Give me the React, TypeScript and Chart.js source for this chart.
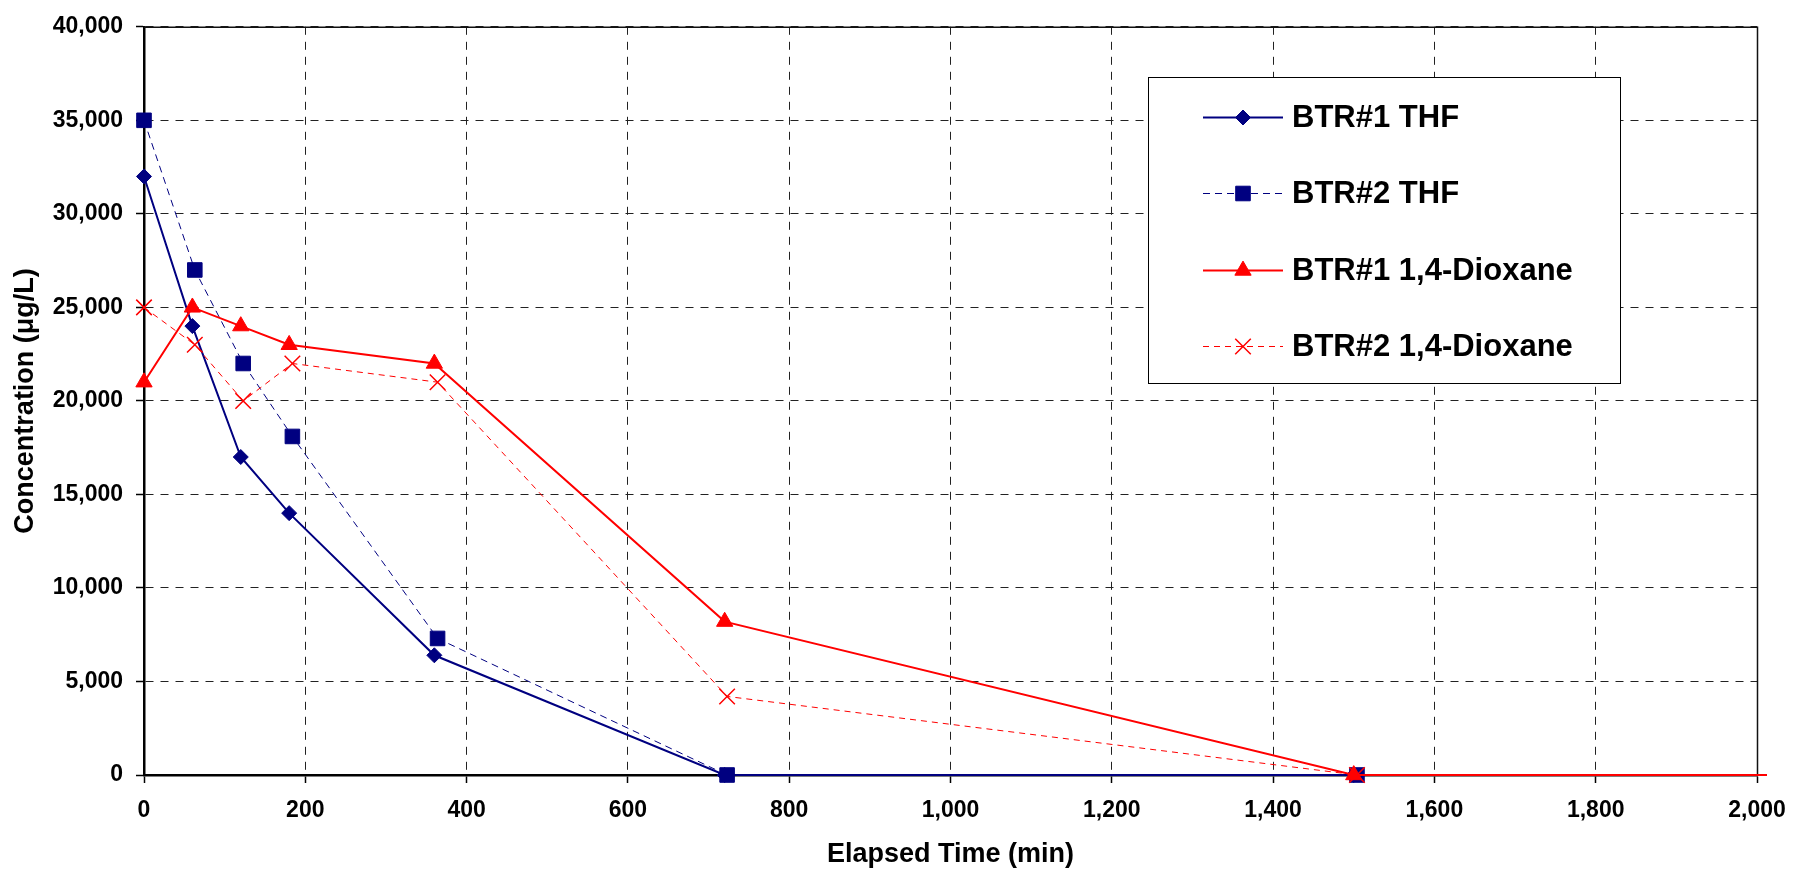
import React, { useEffect, useRef } from "react";
import { Chart, registerables } from "chart.js";
import { drawPoint } from "chart.js/helpers";

Chart.register(...registerables);

// ---------------- data ----------------
const SERIES_NAMES = ["BTR#1 THF", "BTR#2 THF", "BTR#1 1,4-Dioxane", "BTR#2 1,4-Dioxane"];

const BTR1_THF_TIME = [0, 60, 120, 180, 360, 720, 1500];
const BTR1_THF_CONC = [32000, 24000, 17000, 14000, 6400, 0, 0];

const BTR2_THF_TIME = [0, 63, 123, 184, 364, 723, 1504];
const BTR2_THF_CONC = [35000, 27000, 22000, 18100, 7300, 0, 0];

const BTR1_DIOX_TIME = [0, 60, 120, 180, 360, 720, 1500, 2880];
const BTR1_DIOX_CONC = [21000, 25000, 24000, 23000, 22000, 8200, 0, 0];

const BTR2_DIOX_TIME = [0, 63, 123, 184, 364, 723, 1504, 2880];
const BTR2_DIOX_CONC = [25000, 23000, 20000, 22000, 21000, 4200, 0, 0];

const X_TICKS = [0, 200, 400, 600, 800, 1000, 1200, 1400, 1600, 1800, 2000];
const Y_TICKS = [0, 5000, 10000, 15000, 20000, 25000, 30000, 35000, 40000];

const X_TITLE = "Elapsed Time (min)";
const Y_TITLE = "Concentration (\u03bcg/L)";

// ---------------- styles ----------------
const NAVY = "#000080";
const RED = "#FF0000";
const FONT = "'Liberation Sans', Arial, sans-serif";

const pts = (xs: number[], ys: number[]) => xs.map((x, i) => ({ x, y: ys[i] }));

const legendPlugin = {
  id: "boxLegend",
  afterDatasetsDraw(chart: any) {
    const ctx = chart.ctx as CanvasRenderingContext2D;
    const box = { left: 1148, top: 77, right: 1620, bottom: 383 };
    ctx.save();
    ctx.fillStyle = "#fff";
    ctx.fillRect(box.left, box.top, box.right - box.left, box.bottom - box.top);
    ctx.strokeStyle = "#000";
    ctx.lineWidth = 1;
    ctx.setLineDash([]);
    ctx.strokeRect(box.left + 0.5, box.top + 0.5, box.right - box.left, box.bottom - box.top);
    const rowY0 = box.top + 40;
    const rowStep = 76.3;
    chart.data.datasets.forEach((ds: any, i: number) => {
      const y = Math.round(rowY0 + i * rowStep) + 0.5;
      ctx.strokeStyle = ds.borderColor;
      ctx.lineWidth = ds.borderWidth;
      ctx.setLineDash(ds.borderDash || []);
      ctx.beginPath();
      ctx.moveTo(box.left + 55, y);
      ctx.lineTo(box.left + 135, y);
      ctx.stroke();
      ctx.setLineDash([]);
      ctx.fillStyle = ds.pointBackgroundColor;
      ctx.strokeStyle = ds.pointBorderColor;
      ctx.lineWidth = ds.pointBorderWidth;
      const r = Array.isArray(ds.pointRadius) ? ds.pointRadius[0] : ds.pointRadius;
      drawPoint(ctx, { pointStyle: ds.pointStyle, radius: r, borderWidth: ds.pointBorderWidth, rotation: 0 } as any, box.left + 95, y);
      ctx.fillStyle = "#000";
      ctx.font = `bold 31px ${FONT}`;
      ctx.textBaseline = "middle";
      ctx.textAlign = "left";
      ctx.fillText(ds.label, box.left + 144, y + 1);
    });
    ctx.restore();
  },
};

const framePlugin = {
  id: "plotFrame",
  beforeDatasetsDraw(chart: any) {
    const { ctx, chartArea: a } = chart;
    ctx.save();
    ctx.strokeStyle = "#111";
    ctx.lineWidth = 1.5;
    ctx.setLineDash([]);
    ctx.beginPath();
    ctx.moveTo(a.left, a.top + 0.5);
    ctx.lineTo(a.right + 0.5, a.top + 0.5);
    ctx.lineTo(a.right + 0.5, a.bottom);
    ctx.stroke();
    ctx.restore();
  },
};

export default function App() {
  const ref = useRef<HTMLCanvasElement>(null);

  useEffect(() => {
    document.body.style.margin = "0";
    const tickFont = { family: FONT, size: 23, weight: "bold" as const };
    const titleFont = { family: FONT, size: 27, weight: "bold" as const };
    const gridCommon = {
      color: "#222",
      lineWidth: 1,
      tickLength: 8,
      tickColor: "#000",
      tickWidth: 1.5,
      drawTicks: true,
    };
    const chart = new Chart(ref.current as HTMLCanvasElement, {
      type: "line",
      data: {
        datasets: [
          {
            label: SERIES_NAMES[0],
            data: pts(BTR1_THF_TIME, BTR1_THF_CONC),
            borderColor: NAVY,
            backgroundColor: NAVY,
            borderWidth: 2,
            pointStyle: "rectRot",
            pointRadius: 7.5,
            pointBorderWidth: 1,
            pointBackgroundColor: NAVY,
            pointBorderColor: NAVY,
            order: 4,
            clip: 20,
          },
          {
            label: SERIES_NAMES[1],
            data: pts(BTR2_THF_TIME, BTR2_THF_CONC),
            borderColor: NAVY,
            backgroundColor: NAVY,
            borderWidth: 1,
            borderDash: [7, 5],
            pointStyle: "rect",
            pointRadius: 10.3,
            pointBorderWidth: 1,
            pointBackgroundColor: NAVY,
            pointBorderColor: NAVY,
            order: 3,
            clip: 20,
          },
          {
            label: SERIES_NAMES[2],
            data: pts(BTR1_DIOX_TIME, BTR1_DIOX_CONC),
            borderColor: RED,
            backgroundColor: RED,
            borderWidth: 2,
            pointStyle: "triangle",
            pointRadius: BTR1_DIOX_TIME.map((t) => (t > X_TICKS[X_TICKS.length - 1] ? 0 : 9.4)),
            pointBorderWidth: 1,
            pointBackgroundColor: RED,
            pointBorderColor: RED,
            order: 2,
            clip: { left: 20, top: 20, right: 10, bottom: 20 },
          },
          {
            label: SERIES_NAMES[3],
            data: pts(BTR2_DIOX_TIME, BTR2_DIOX_CONC),
            borderColor: RED,
            backgroundColor: RED,
            borderWidth: 1,
            borderDash: [6, 5],
            pointStyle: "crossRot",
            pointRadius: BTR2_DIOX_TIME.map((t) => (t > X_TICKS[X_TICKS.length - 1] ? 0 : 11)),
            pointBorderWidth: 1.5,
            pointBackgroundColor: RED,
            pointBorderColor: RED,
            order: 1,
            clip: { left: 20, top: 20, right: 10, bottom: 20 },
          },
        ],
      },
      options: {
        responsive: false,
        animation: false,
        devicePixelRatio: 1,
        layout: { padding: { left: 0, top: 21, right: 43, bottom: 0 } },
        plugins: { legend: { display: false }, tooltip: { enabled: false } },
        elements: { line: { tension: 0 } },
        scales: {
          x: {
            type: "linear",
            min: X_TICKS[0],
            max: X_TICKS[X_TICKS.length - 1],
            afterBuildTicks: (s: any) => {
              s.ticks = X_TICKS.map((v) => ({ value: v }));
            },
            ticks: {
              font: tickFont,
              color: "#000",
              padding: 14,
              maxRotation: 0,
              autoSkip: false,
              callback: (v: any) => Number(v).toLocaleString("en-US"),
            },
            grid: gridCommon,
            border: { display: true, color: "#000", width: 2.5, dash: [8, 7] },
            title: {
              display: true,
              text: X_TITLE,
              font: titleFont,
              color: "#000",
              padding: { top: 0, bottom: 2 },
            },
            afterFit: (s: any) => {
              s.height = 98;
            },
          },
          y: {
            type: "linear",
            min: Y_TICKS[0],
            max: Y_TICKS[Y_TICKS.length - 1],
            afterBuildTicks: (s: any) => {
              s.ticks = Y_TICKS.map((v) => ({ value: v }));
            },
            ticks: {
              font: tickFont,
              color: "#000",
              padding: 13,
              autoSkip: false,
              callback: (v: any) => Number(v).toLocaleString("en-US"),
            },
            grid: gridCommon,
            border: { display: true, color: "#000", width: 2.5, dash: [8, 7] },
            title: {
              display: true,
              text: Y_TITLE,
              font: titleFont,
              color: "#000",
              padding: { top: 9, bottom: 0 },
            },
            afterFit: (s: any) => {
              s.width = 144;
            },
          },
        },
      },
      plugins: [framePlugin, legendPlugin],
    } as any);
    return () => chart.destroy();
  }, []);

  return (
    <div style={{ width: 1800, height: 873 }}>
      <canvas ref={ref} width={1800} height={873} style={{ display: "block" }} />
    </div>
  );
}
